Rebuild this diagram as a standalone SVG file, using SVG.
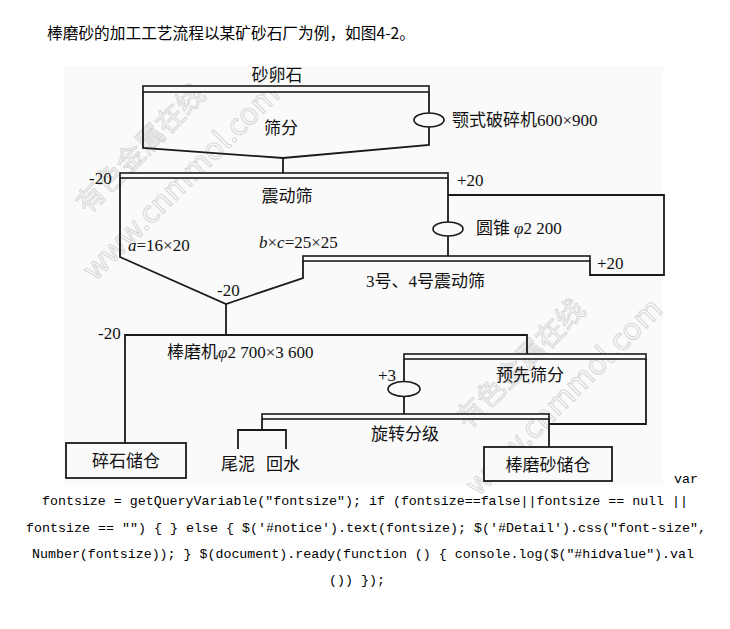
<svg xmlns="http://www.w3.org/2000/svg" width="730" height="629" viewBox="0 0 730 629">
<style>
.bg{fill:#fafafa}
.ln{fill:none;stroke:#1a1a1a;stroke-width:1.8;stroke-linejoin:miter}
.bar{fill:#fafafa;stroke:#1a1a1a;stroke-width:1.6}
.box{fill:#fafafa;stroke:#1a1a1a;stroke-width:1.8}
.ell{fill:#fafafa;stroke:#1a1a1a;stroke-width:1.6}
.lbl{font-family:"Liberation Serif","Noto Sans CJK SC",serif;font-size:17px;fill:#111}
.mid{text-anchor:middle}
.it{font-style:italic}
.wm{font-family:"Noto Sans CJK SC","Liberation Sans",sans-serif;fill:none;stroke:#d4d4d4;stroke-width:0.9}
.head{font-family:"Noto Sans CJK SC",sans-serif;font-size:15.5px;fill:#000}
.code{font-family:"Liberation Mono",monospace;font-size:13.3px;fill:#000}
</style>
<rect x="0" y="0" width="730" height="629" fill="#ffffff"/>
<text class="head" x="47" y="39" textLength="368" lengthAdjust="spacingAndGlyphs">棒磨砂的加工工艺流程以某矿砂石厂为例，如图4-2。</text>
<rect class="bg" x="64" y="66" width="599" height="419"/>
<g id="watermark">
<text class="wm" font-size="28" transform="translate(88,215) rotate(-45)">有色金属在线</text>
<text class="wm" font-size="30" transform="translate(95,282) rotate(-45)">www.cnmmol.com</text>
<text class="wm" font-size="28" transform="translate(468,430) rotate(-45)">有色金属在线</text>
<text class="wm" font-size="30" transform="translate(478,497) rotate(-45)">www.cnmmol.com</text>
</g>
<g id="connectors">
<path class="ln" d="M143,92 V148 L283,158 L429,145 V92"/>
<path class="ln" d="M283,158 V173"/>
<path class="ln" d="M120,178 V257 L226,304 L303,278 V261"/>
<path class="ln" d="M226,304 V335"/>
<path class="ln" d="M448,178 V256"/>
<path class="ln" d="M448,195 H664 V275 H590 V261"/>
<path class="ln" d="M125,443 V335 H527 V354"/>
<path class="ln" d="M404,359 V414"/>
<path class="ln" d="M646,359 V424 H549"/>
<path class="ln" d="M549,419 V447"/>
<path class="ln" d="M262,419 V430 M238,449 V430 H286 V449"/>
</g>
<g id="gravel">
<text class="lbl mid" x="277" y="81">砂卵石</text>
</g>
<g id="screen1">
<rect class="bar" x="143" y="86" width="286" height="6"/>
<text class="lbl mid" x="281" y="134">筛分</text>
</g>
<g id="jaw-crusher">
<ellipse class="ell" cx="429" cy="120" rx="15" ry="7"/>
<text class="lbl" x="452" y="126">颚式破碎机600×900</text>
</g>
<g id="vib-screen">
<rect class="bar" x="120" y="173" width="328" height="5"/>
<text class="lbl mid" x="287" y="202">震动筛</text>
<text class="lbl" x="89" y="184">-20</text>
<text class="lbl" x="457" y="186">+20</text>
<text class="lbl" x="128" y="251"><tspan class="it">a</tspan>=16×20</text>
<text class="lbl" x="259" y="248"><tspan class="it">b</tspan>×<tspan class="it">c</tspan>=25×25</text>
<text class="lbl" x="217" y="296">-20</text>
</g>
<g id="cone-crusher">
<ellipse class="ell" cx="448" cy="229" rx="15" ry="7"/>
<text class="lbl" x="476" y="234">圆锥<tspan class="it" dx="4">φ</tspan>2 200</text>
</g>
<g id="vib-screen-34">
<rect class="bar" x="303" y="256" width="287" height="5"/>
<text class="lbl" x="366" y="287">3号、4号震动筛</text>
<text class="lbl" x="597" y="269">+20</text>
</g>
<g id="rod-mill">
<text class="lbl" x="98" y="339">-20</text>
<text class="lbl" x="167" y="358">棒磨机<tspan class="it">φ</tspan>2 700×3 600</text>
</g>
<g id="pre-screen">
<rect class="bar" x="404" y="354" width="242" height="5"/>
<text class="lbl mid" x="530" y="381">预先筛分</text>
<ellipse class="ell" cx="404" cy="389" rx="16" ry="7.5"/>
<text class="lbl" x="378" y="381">+3</text>
</g>
<g id="spiral-classifier">
<rect class="bar" x="262" y="414" width="287" height="5"/>
<text class="lbl mid" x="405" y="440">旋转分级</text>
</g>
<g id="tailings">
<text class="lbl mid" x="238" y="470">尾泥</text>
</g>
<g id="return-water">
<text class="lbl mid" x="283" y="470">回水</text>
</g>
<g id="crushed-stone-bin">
<rect class="box" x="66" y="443" width="120" height="35"/>
<text class="lbl mid" x="126" y="467">碎石储仓</text>
</g>
<g id="rod-sand-bin">
<rect class="box" x="484" y="447" width="128" height="34"/>
<text class="lbl mid" x="548" y="471">棒磨砂储仓</text>
</g>
<g id="code-text">
<text class="code" x="674" y="483">var</text>
<text class="code" x="42" y="505" textLength="646" lengthAdjust="spacingAndGlyphs">fontsize = getQueryVariable("fontsize"); if (fontsize==false||fontsize == null ||</text>
<text class="code" x="26" y="532" textLength="680" lengthAdjust="spacingAndGlyphs">fontsize == "") { } else { $('#notice').text(fontsize); $('#Detail').css("font-size",</text>
<text class="code" x="32" y="558" textLength="662" lengthAdjust="spacingAndGlyphs">Number(fontsize)); } $(document).ready(function () { console.log($("#hidvalue").val</text>
<text class="code" x="329" y="584" textLength="56" lengthAdjust="spacingAndGlyphs">()) });</text>
</g>
</svg>
